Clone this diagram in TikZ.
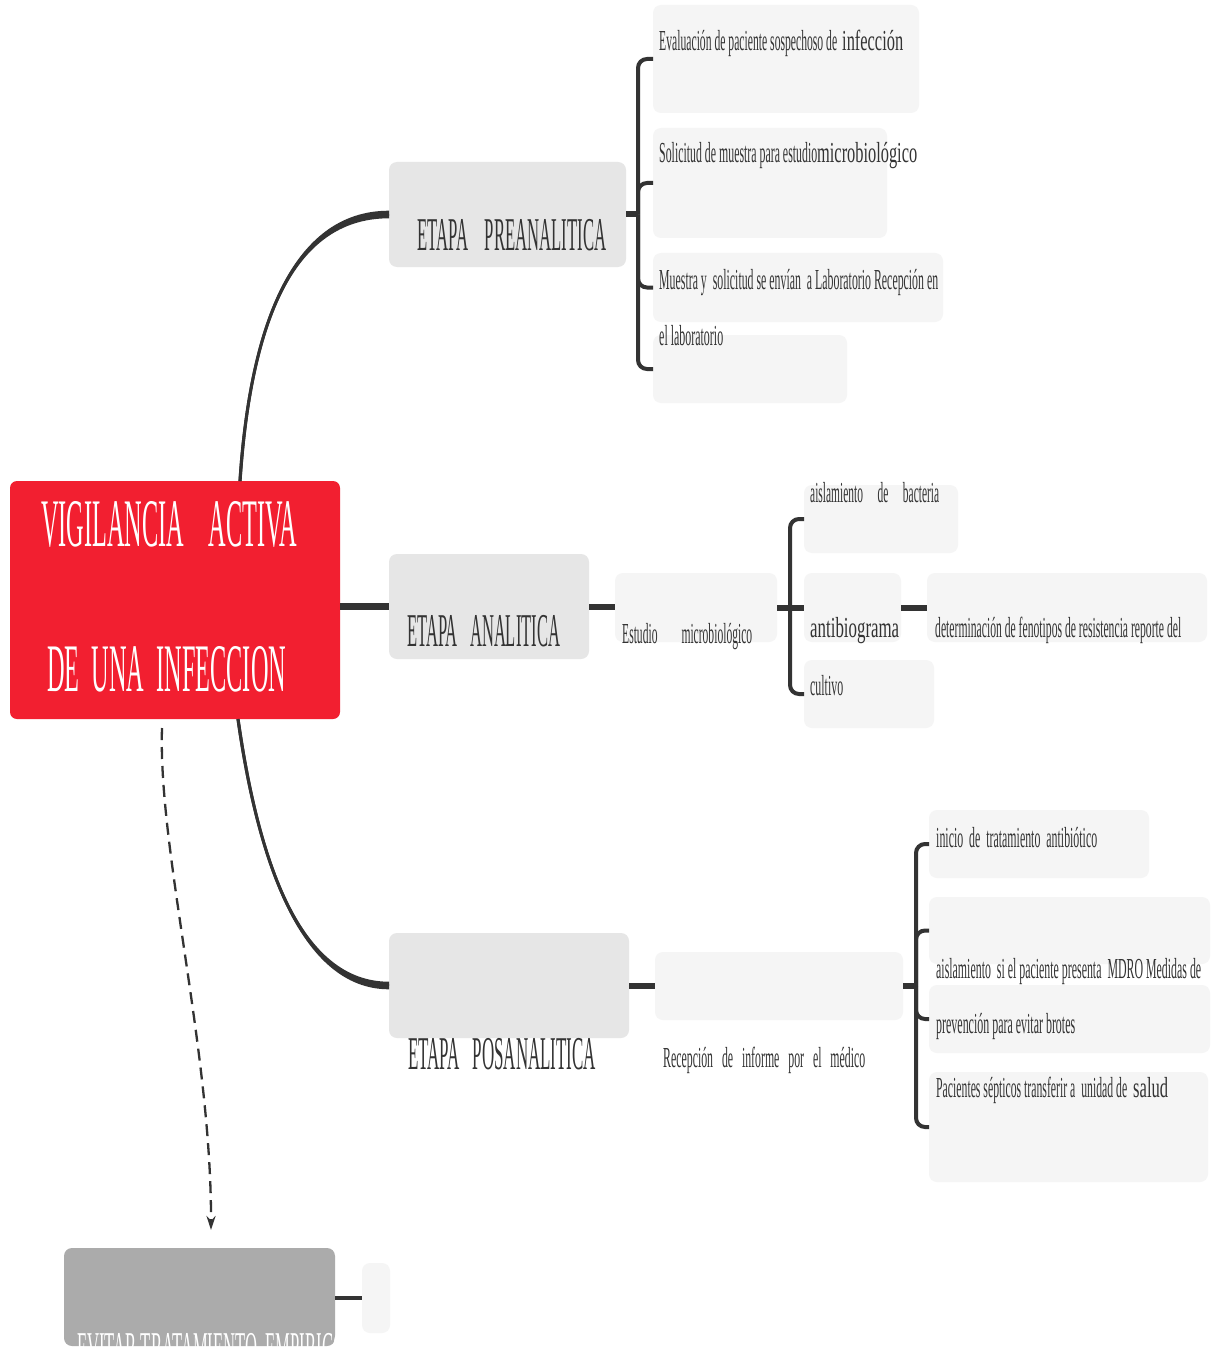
\documentclass[tikz,border=0pt]{standalone}
\usepackage{fontspec}
\setmainfont{Liberation Serif}
\usepackage{graphicx}
\usetikzlibrary{calc,arrows.meta,fit}
\definecolor{ink}{HTML}{333333}
\definecolor{redbox}{HTML}{F21F30}
\definecolor{topicfill}{HTML}{E6E6E6}
\definecolor{subfill}{HTML}{F5F5F5}
\definecolor{evitfill}{HTML}{ABABAB}
\newcommand\fitw[2]{\resizebox{#1pt}{\height}{#2}}
\begin{document}
\begin{tikzpicture}[x=1pt,y=-1pt,
  basebox/.style={inner sep=0pt, outer sep=0pt, draw=none, rounded corners=8pt},
  rednode/.style={basebox, fill=redbox, rounded corners=7pt},
  topicnode/.style={basebox, fill=topicfill},
  subnode/.style={basebox, fill=subfill},
  evitnode/.style={basebox, fill=evitfill},
  txt/.style={inner sep=0pt, anchor=base west, text=ink, font=\fontsize{29}{34}\selectfont},
  ttl/.style={txt, font=\fontsize{47}{56}\selectfont},
  bigttl/.style={txt, text=white, font=\fontsize{68}{80}\selectfont},
  evttl/.style={txt, text=white, font=\fontsize{44}{52}\selectfont},
  lk/.style={draw=ink, line width=6pt},
  brk/.style={draw=ink, line width=4pt, rounded corners=9pt},
  curv/.style={draw=ink, line width=3pt},
  dashline/.style={draw=ink, line width=2.3pt, dash pattern=on 12pt off 7pt,
    -{Stealth[length=14pt,width=9pt]}}
]
\fill[white] (0,0) rectangle (1213,1348);
\useasboundingbox (0,0) rectangle (1213,1348);

% ---- main boxes
\node[rednode, fit={(10,481)(340,719)}] (main) {};
\node[topicnode, fit={(389,162)(626,267)}] (pre) {};
\node[topicnode, fit={(389,554)(589,659)}] (ana) {};
\node[topicnode, fit={(389,933)(629,1038)}] (pos) {};
\node[evitnode, fit={(64,1248)(335,1346)}] (evit) {};
\node[subnode, fit={(362,1263)(390,1333)}] (evsub) {};

% ---- preanalitica children
\node[subnode, fit={(653,5)(919,113)}] (p1) {};
\node[subnode, fit={(653,128)(887,238)}] (p2) {};
\node[subnode, fit={(653,253)(943,322)}] (p3) {};
\node[subnode, fit={(653,335)(847,403)}] (p4) {};

% ---- analitica children
\node[subnode, fit={(615,573)(777,642)}] (est) {};
\node[subnode, fit={(804,485)(958,553)}] (a1) {};
\node[subnode, fit={(804,573)(901,642)}] (a2) {};
\node[subnode, fit={(804,660)(934,728)}] (a3) {};
\node[subnode, fit={(927,573)(1207,642)}] (det) {};

% ---- posanalitica children
\node[subnode, fit={(655,952)(903,1020)}] (rec) {};
\node[subnode, fit={(929,810)(1149,878)}] (q1) {};
\node[subnode, fit={(929,897)(1210,964)}] (q2) {};
\node[subnode, fit={(929,985)(1210,1053)}] (q3) {};
\node[subnode, fit={(929,1072)(1208,1182)}] (q4) {};

% ---- curved connectors from main
\coordinate (t0) at ($(main.north)+(65,0)$);
\draw[curv] (t0) .. controls ($(t0)+(10,-151)$) and ($(pre.west)+(-99,0)$) .. (pre.west);
\fill[ink] ($(t0)+(-1.6,0)$) .. controls ($(t0)+(8.4,-151)$) and ($(pre.west)+(-99,-3.8)$) .. ($(pre.west)+(0,-3.8)$)
  -- ($(pre.west)+(0,3.8)$) .. controls ($(pre.west)+(-99,3.8)$) and ($(t0)+(11.6,-151)$) .. ($(t0)+(1.6,0)$) -- cycle;

\coordinate (b0) at ($(main.south)+(63,0)$);
\draw[curv] (b0) .. controls ($(b0)+(20,141)$) and ($(pos.west)+(-89,0)$) .. (pos.west);
\fill[ink] ($(b0)+(-1.6,0)$) .. controls ($(b0)+(18.4,141)$) and ($(pos.west)+(-89,3.8)$) .. ($(pos.west)+(0,3.8)$)
  -- ($(pos.west)+(0,-3.8)$) .. controls ($(pos.west)+(-89,-3.8)$) and ($(b0)+(21.6,141)$) .. ($(b0)+(1.6,0)$) -- cycle;

\draw[lk, line width=7pt] (main.east |- ana.west) -- (ana.west);

% ---- dashed arrow to EVITAR
\draw[dashline] ($(main.south)+(-13,9)$) .. controls ($(main.south)+(-17,131)$) and ($(evit.north)+(12,-198)$) .. ($(evit.north)+(11.5,-18)$);
\draw[draw=ink, line width=3.5pt] (evit.east |- evsub.west) -- (evsub.west);

% ---- preanalitica bracket
\draw[lk] (pre.east) -- ++(12,0) coordinate (bR);
\draw[brk] (bR) |- (p1.west);
\draw[brk] (bR) |- (p2.west);
\draw[brk] (bR) |- (p3.west);
\draw[brk] (bR) |- (p4.west);

% ---- analitica links
\draw[lk] (ana.east) -- (ana.east -| est.west);
\draw[lk] (est.east) -- ++(13,0) coordinate (bA);
\draw[brk] (bA) |- (a1.west);
\draw[brk] (bA) |- (a3.west);
\draw[lk] (bA) -- (a2.west);
\draw[lk] (a2.east) -- (det.west);

% ---- posanalitica bracket
\draw[lk] (pos.east) -- (pos.east -| rec.west);
\draw[lk] (rec.east) -- ++(13,0) coordinate (bP);
\draw[brk] (bP) |- (q1.west);
\draw[brk] (bP) |- (q2.west);
\draw[brk] (bP) |- (q3.west);
\draw[brk] (bP) |- (q4.west);

% ---- texts
\node[bigttl] (mt1) at (41,546) {\fitw{256}{VIGILANCIA\ \ \ \ ACTIVA}};
\node[bigttl] (mt2) at (47,691) {\fitw{239}{DE\ \ UNA\ \ INFECCION}};
\node[ttl] (pret) at (417,251) {\fitw{189}{ETAPA\ \ \ \ PREANALITICA}};
\node[ttl] (anat) at (407,646) {\fitw{153}{ETAPA\ \ \ ANALITICA}};
\node[ttl] (post) at (408,1069) {\fitw{188}{ETAPA\ \ \ POSANALITICA}};
\begin{scope}
\clip[rounded corners=8pt] (64,1248) rectangle (335,1346);
\node[evttl] (evt) at (77,1362) {\fitw{268}{EVITAR TRATAMIENTO\ \ EMPIRICO}};
\end{scope}

\node[txt] (tp1) at (659,51) {\fitw{178}{Evaluación de paciente sospechoso de}\hspace{5pt}\fitw{61}{infección}};
\node[txt] (tp2) at (659,163) {\fitw{158}{Solicitud de muestra para estudio}\fitw{100}{microbiológico}};
\node[txt] (tp3) at (659,289) {\fitw{279}{Muestra y\ \ solicitud se envían\ \ a Laboratorio Recepción en}};
\node[txt] (tp4) at (659,345) {\fitw{64}{el laboratorio}};

\node[txt] (et) at (622,643) {\fitw{130}{Estudio\hspace{60pt}microbiológico}};
\node[txt] (a1t) at (810,502) {\fitw{129}{aislamiento\hspace{37pt}de\hspace{37pt}bacteria}};
\node[txt] (a2t) at (810,637) {\fitw{89}{antibiograma}};
\node[txt] (a3t) at (810,695) {\fitw{33}{cultivo}};
\node[txt] (dett) at (935,637) {\fitw{246}{determinación de fenotipos de resistencia reporte del}};

\node[txt] (rect) at (663,1067) {\fitw{202}{Recepción\ \ \ de\ \ \ informe\ \ \ por\ \ \ el\ \ \ médico}};
\node[txt] (q1t) at (936,847) {\fitw{161}{inicio\ \ de\ \ tratamiento\ \ antibiótico}};
\node[txt] (q2t) at (936,978) {\fitw{265}{aislamiento\ \ si el paciente presenta\ \ MDRO Medidas de}};
\node[txt] (q3t) at (936,1033) {\fitw{139}{prevención para evitar brotes}};
\node[txt] (q4t) at (936,1097) {\fitw{191}{Pacientes sépticos transferir a\ \ unidad de}\hspace{6pt}\fitw{35}{salud}};
\end{tikzpicture}
\end{document}
